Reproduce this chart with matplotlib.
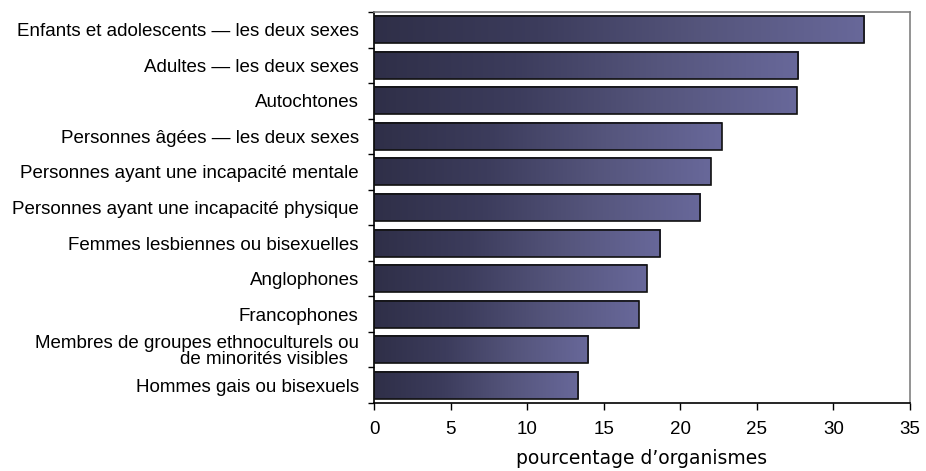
import numpy as np
import matplotlib
matplotlib.use("Agg")
import matplotlib.pyplot as plt
from matplotlib.colors import LinearSegmentedColormap

categories = [
    "Enfants et adolescents \u2014 les deux sexes",
    "Adultes \u2014 les deux sexes",
    "Autochtones",
    "Personnes âgées \u2014 les deux sexes",
    "Personnes ayant une incapacité mentale",
    "Personnes ayant une incapacité physique",
    "Femmes lesbiennes ou bisexuelles",
    "Anglophones",
    "Francophones",
    "Membres de groupes ethnoculturels ou\nde minorités visibles  ",
    "Hommes gais ou bisexuels",
]
values = [32.0, 27.7, 27.6, 22.7, 22.0, 21.3, 18.7, 17.8, 17.3, 14.0, 13.35]
xticks = [0, 5, 10, 15, 20, 25, 30, 35]
xlabel = "pourcentage d\u2019organismes"

fig = plt.figure(figsize=(9.26, 4.71), dpi=100)
ax = fig.add_axes([374/926, 1-403/471, (910-374)/926, (403-12)/471])

cmap = LinearSegmentedColormap.from_list("g", ["#2f2f48", "#3c3c5c", "#55557c", "#68689a"])
grad = np.linspace(0, 1, 256).reshape(1, -1)
n = len(categories)
ypos = np.arange(n)[::-1]
h = 0.76
for y, v in zip(ypos, values):
    ax.imshow(grad, cmap=cmap, aspect="auto", extent=[0, v, y - h/2, y + h/2],
              interpolation="bilinear", zorder=2)
    ax.barh(y, v, height=h, facecolor="none", edgecolor="#111111", linewidth=1.2, zorder=3)

ax.set_xlim(0, 35)
ax.set_ylim(-0.5, n - 0.5)
ax.set_xticks(xticks)
ax.set_xticklabels([str(t) for t in xticks], family="Liberation Sans", fontsize=13.5)
ax.set_yticks(ypos)
ax.set_yticklabels(categories, family="Liberation Sans", fontsize=13.5, linespacing=0.92)
ax.tick_params(axis="y", length=0, pad=11)
ax.set_yticks(np.arange(n + 1) - 0.5, minor=True)
ax.tick_params(axis="y", which="minor", length=4, width=1, color="black")
ax.tick_params(axis="x", length=5, width=1, direction="out", pad=8)
ax.set_xlabel(xlabel, family="DejaVu Sans", fontsize=13.5, labelpad=8)

for s in ["left", "bottom"]:
    ax.spines[s].set_color("black")
    ax.spines[s].set_linewidth(1.2)
for s in ["top", "right"]:
    ax.spines[s].set_color("#808080")
    ax.spines[s].set_linewidth(1.2)

fig.savefig("out.png", dpi=100)
